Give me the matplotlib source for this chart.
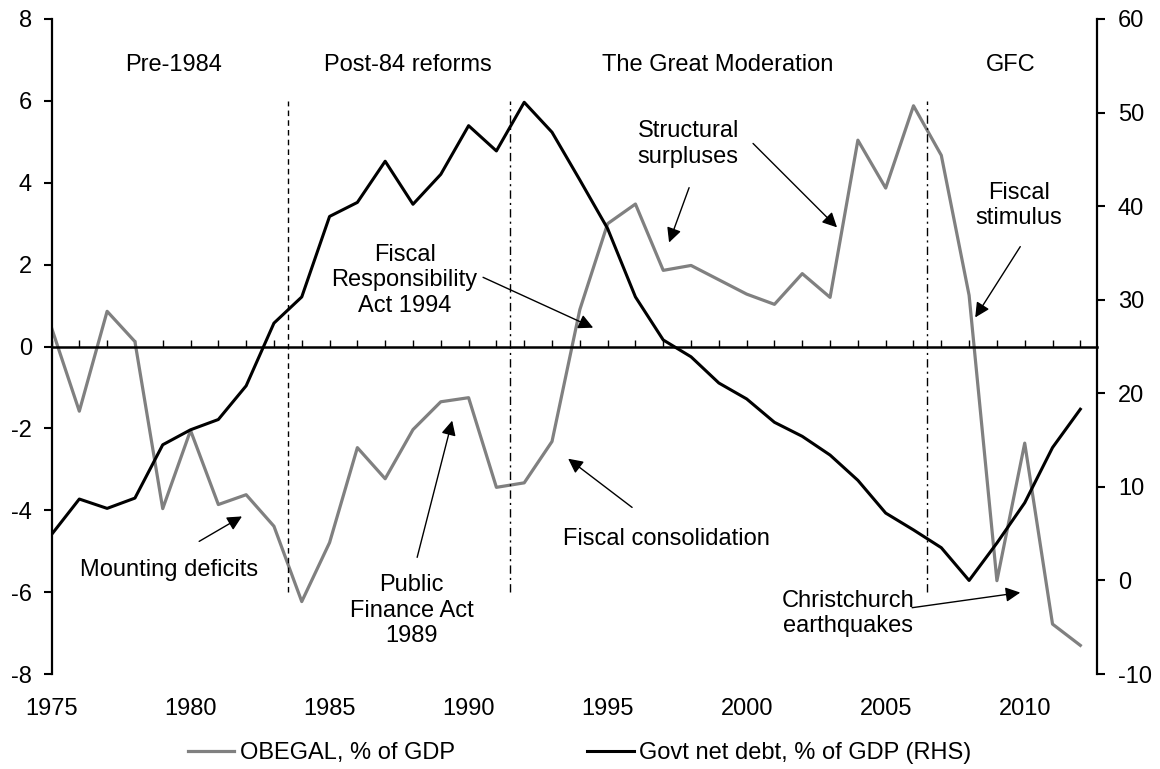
import matplotlib
matplotlib.use("Agg")
import matplotlib.pyplot as plt

plt.rcParams['font.family'] = ['Liberation Sans', 'DejaVu Sans']
plt.rcParams['font.size'] = 17
plt.rcParams['axes.unicode_minus'] = False

# data
years = list(range(1975, 2013))
obegal = [0.46, -1.58, 0.86, 0.12, -3.96, -2.05, -3.86, -3.62, -4.39, -6.23,
          -4.79, -2.47, -3.23, -2.03, -1.35, -1.25, -3.44, -3.33, -2.32, 0.9,
          3.0, 3.48, 1.86, 1.98, 1.63, 1.28, 1.03, 1.78, 1.2, 5.04,
          3.87, 5.88, 4.67, 1.25, -5.72, -2.36, -6.78, -7.3]
net_debt = [4.9, 8.7, 7.7, 8.8, 14.5, 16.1, 17.2, 20.8, 27.5, 30.3,
            38.9, 40.4, 44.8, 40.2, 43.4, 48.6, 45.9, 51.1, 47.9, 42.8,
            37.6, 30.3, 25.7, 23.9, 21.1, 19.4, 16.9, 15.4, 13.4, 10.7,
            7.2, 5.4, 3.5, 0.0, 4.0, 8.3, 14.2, 18.3]

year_labels = [1975, 1980, 1985, 1990, 1995, 2000, 2005, 2010]
left_ticks = [-8, -6, -4, -2, 0, 2, 4, 6, 8]
right_ticks = [-10, 0, 10, 20, 30, 40, 50, 60]

# period boundaries
breaks = [1983.5, 1991.5, 2006.5]
break_styles = [(0, (4, 3)), (0, (6, 3, 1.5, 3)), (0, (6, 3, 1.5, 3))]

periods = ['Pre-1984', 'Post-84 reforms', 'The Great Moderation', 'GFC']
period_x = [1979.4, 1987.8, 1998.95, 2009.5]

# annotations: text, text position, arrows (tail, head)
notes = [
    ('Fiscal\nResponsibility\nAct 1994', (1987.7, 1.62), [((1990.52, 1.69), (1994.48, 0.46))]),
    ('Structural\nsurpluses', (1997.9, 4.95), [((1997.93, 3.88), (1997.21, 2.54)),
                                              ((2000.23, 4.96), (2003.25, 2.91))]),
    ('Fiscal\nstimulus', (2009.8, 3.45), [((2009.84, 2.44), (2008.22, 0.71))]),
    ('Mounting deficits', (1979.23, -5.45), [((1980.31, -4.76), (1981.85, -4.15))]),
    ('Public\nFinance Act\n1989', (1987.95, -6.45), [((1988.15, -5.15), (1989.41, -1.81))]),
    ('Fiscal consolidation', (1997.11, -4.69), [((1995.88, -3.93), (1993.58, -2.74))]),
    ('Christchurch\nearthquakes', (2003.65, -6.52), [((2005.95, -6.38), (2009.84, -6.01))]),
]

fig = plt.figure(figsize=(11.6, 7.69), dpi=100)
ax = fig.add_axes([0.0444, 0.1235, 0.9013, 0.8518])
ax2 = ax.twinx()

l1, = ax.plot(years, obegal, color='#808080', lw=2.3, label='OBEGAL, % of GDP')
l2, = ax2.plot(years, net_debt, color='black', lw=2.2, label='Govt net debt, % of GDP (RHS)')

ax.set_xlim(1975, 2012.6)
ax.set_ylim(-8, 8)
ax2.set_ylim(-10, 60)

# x axis at zero, year ticks pointing up
ax.spines['bottom'].set_position(('data', 0))
ax.spines['bottom'].set_linewidth(1.8)
ax.set_xticks(years)
ax.tick_params(axis='x', direction='in', length=5, width=1, labelbottom=False)
for s in ['top', 'right']:
    ax.spines[s].set_visible(False)
ax.spines['left'].set_linewidth(1.6)
ax.set_yticks(left_ticks)
ax.tick_params(axis='y', direction='out', length=6, width=1.5, pad=8)

for s in ['top', 'left', 'bottom']:
    ax2.spines[s].set_visible(False)
ax2.spines['right'].set_linewidth(1.6)
ax2.set_yticks(right_ticks)
ax2.tick_params(axis='y', direction='out', length=6, width=1.5, pad=9)

sec = ax.secondary_xaxis('bottom')
sec.set_xticks(year_labels)
sec.tick_params(length=0, pad=17)
sec.spines['bottom'].set_visible(False)

for bx, ls in zip(breaks, break_styles):
    ax.plot([bx, bx], [-6, 6], color='black', lw=1, linestyle=ls)

for name, px in zip(periods, period_x):
    ax.text(px, 6.72, name, ha='center', va='baseline')

for txt, pos, arrows in notes:
    ax.text(pos[0], pos[1], txt, ha='center', va='center', linespacing=1.2)
    for tail, head in arrows:
        ax.annotate('', xy=head, xytext=tail,
                    arrowprops=dict(arrowstyle='-|>', color='black', lw=1,
                                    mutation_scale=22, shrinkA=0, shrinkB=0))

fig.legend([l1, l2], [l1.get_label(), l2.get_label()], loc='center',
           bbox_to_anchor=(0.5, 0.021), ncol=2, frameon=False,
           handlelength=1.95, handletextpad=0.25, columnspacing=5.6)

fig.savefig('out.png', dpi=100)
